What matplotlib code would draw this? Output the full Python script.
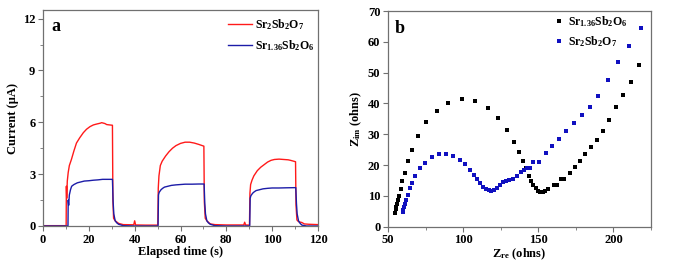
import matplotlib
matplotlib.use("Agg")
import matplotlib.pyplot as plt
from matplotlib.ticker import MultipleLocator

plt.rcParams['font.family'] = ['Liberation Serif', 'DejaVu Serif']
plt.rcParams['font.weight'] = 'bold'
plt.rcParams['mathtext.fontset'] = 'custom'
plt.rcParams['mathtext.rm'] = 'Liberation Serif:bold'
plt.rcParams['mathtext.it'] = 'Liberation Serif:bold'
plt.rcParams['mathtext.bf'] = 'Liberation Serif:bold'

# ---- Panel a: photocurrent vs time ----
t_red = [0, 10.1, 10.2, 10.35, 10.6, 11.0, 11.5, 12.4, 13.5, 14.6, 16.0, 17.6, 19.0, 20.5, 22.0,
         23.4, 25.0, 25.6, 27.0, 27.8, 29.0, 30.3, 30.5, 30.8, 31.5, 33.0, 35.0, 39.6, 40.0,
         40.4, 45.0, 50.1, 50.3, 50.6, 51.2, 52.0, 53.5, 55.0, 56.5, 58.0, 60.0, 62.0, 64.0,
         66.0, 68.0, 70.2, 70.4, 70.8, 71.5, 73.0, 75.0, 80.0, 87.6, 88.0, 88.4, 90.1, 90.3,
         90.6, 91.2, 92.0, 93.5, 95.0, 96.5, 98.0, 99.5, 101.0, 103.0, 105.0, 107.0, 108.0,
         110.2, 110.4, 110.8, 111.5, 113.0, 114.0, 116.0, 120.0]
i_red = [0.02, 0.02, 2.3, 1.6, 2.6, 3.1, 3.5, 3.85, 4.35, 4.8, 5.1, 5.4, 5.6, 5.75, 5.85,
         5.9, 5.95, 5.98, 5.93, 5.87, 5.85, 5.83, 1.5, 0.45, 0.3, 0.15, 0.08, 0.07, 0.3,
         0.06, 0.05, 0.05, 2.2, 2.9, 3.5, 3.75, 4.05, 4.3, 4.5, 4.65, 4.78, 4.85, 4.85,
         4.8, 4.72, 4.62, 1.4, 0.45, 0.3, 0.12, 0.08, 0.06, 0.06, 0.22, 0.06, 0.05, 1.9,
         2.4, 2.65, 2.9, 3.2, 3.4, 3.55, 3.7, 3.8, 3.85, 3.87, 3.85, 3.83, 3.8,
         3.72, 1.2, 0.35, 0.25, 0.2, 0.12, 0.1, 0.08]

t_blue = [0, 10.9, 11.0, 11.2, 11.5, 12.0, 12.5, 13.5, 15.0, 16.5, 18.0, 20.0, 22.0, 24.0, 26.0,
          28.0, 30.3, 30.6, 30.9, 31.5, 32.2, 33.0, 35.0, 40.0, 50.2, 50.4, 50.7, 51.5, 52.2,
          53.0, 54.5, 56.0, 58.0, 60.0, 62.0, 65.0, 68.0, 70.3, 70.6, 70.9, 71.5, 72.2, 73.0,
          75.0, 80.0, 90.2, 90.4, 90.7, 91.5, 92.2, 93.0, 94.5, 96.0, 98.0, 100.0, 103.0,
          106.0, 110.3, 110.6, 110.9, 111.5, 112.2, 113.0, 115.0, 120.0]
i_blue = [0.0, 0.0, 1.5, 1.2, 1.8, 2.1, 2.3, 2.4, 2.5, 2.55, 2.6, 2.62, 2.65, 2.67, 2.7,
          2.7, 2.7, 1.4, 0.7, 0.3, 0.18, 0.1, 0.02, 0.0, 0.0, 1.8, 1.95, 2.1, 2.18,
          2.25, 2.3, 2.35, 2.38, 2.4, 2.42, 2.42, 2.43, 2.43, 1.3, 0.7, 0.3, 0.18, 0.1,
          0.02, 0.0, 0.0, 1.6, 1.75, 1.9, 1.98, 2.05, 2.1, 2.15, 2.18, 2.2, 2.2,
          2.21, 2.22, 1.3, 0.7, 0.3, 0.15, 0.05, 0.0, 0.0]

# ---- Panel b: Nyquist ----
zre_black = [54.4, 55.1, 55.6, 56.0, 56.5, 57.3, 58.4, 59.6, 61.0, 63.2, 65.9, 69.9, 75.6,
             82.5, 90.2, 99.2, 107.6, 116.5, 123.1, 129.4, 133.7, 137.0, 139.8, 141.8, 143.6,
             145.3, 146.8, 148.2, 149.5, 151.1, 152.9, 154.4, 156.2, 160.2, 162.4, 165.3,
             167.0, 171.3, 174.6, 177.9, 181.4, 184.8, 188.9, 193.0, 197.0, 201.6, 206.6,
             211.6, 217.0]
zim_black = [4.6, 5.6, 6.5, 7.4, 8.7, 10.1, 12.3, 14.8, 17.5, 21.2, 25.0, 29.4, 33.9,
             37.5, 40.3, 41.4, 40.8, 38.6, 35.4, 31.5, 27.6, 24.3, 21.3, 18.9, 16.5,
             14.8, 13.4, 12.4, 11.6, 11.3, 11.3, 11.5, 12.2, 13.6, 13.6, 15.5,
             15.6, 17.4, 19.3, 21.4, 23.5, 25.8, 28.2, 31.0, 34.7, 38.7, 42.6,
             47.0, 52.4]

zre_blue = [59.8, 60.3, 60.7, 61.3, 62.0, 63.0, 64.5, 66.1, 68.1, 71.4, 74.9, 79.1, 84.2,
            88.8, 93.4, 97.9, 101.2, 104.5, 107.1, 109.3, 111.5, 113.5, 115.3, 117.1,
            118.8, 120.6, 122.4, 124.3, 126.6, 128.8, 130.7, 133.4, 135.8, 138.3, 140.3,
            142.8, 144.5, 146.4, 150.8, 155.4, 159.4, 163.6, 168.3, 173.8, 179.3, 184.6,
            190.0, 196.2, 203.2, 210.6, 218.3]
zim_blue = [4.7, 5.4, 6.3, 7.4, 8.7, 10.3, 12.4, 14.1, 16.5, 18.9, 20.8, 22.6, 23.6,
            23.7, 23.0, 21.7, 20.2, 18.5, 16.8, 15.4, 14.1, 13.0, 12.3, 11.9,
            11.7, 11.9, 12.7, 13.5, 14.4, 14.9, 15.1, 15.5, 16.5, 17.6, 18.5,
            18.9, 19.0, 21.1, 20.9, 23.9, 26.3, 28.6, 31.1, 33.6, 36.3, 38.9,
            42.4, 47.5, 53.4, 58.8, 64.6]

spine_col = '#707070'

fig = plt.figure(figsize=(6.75, 2.63), dpi=100)
ax1 = fig.add_axes([43 / 675, 1 - 226 / 263, 275 / 675, 216 / 263])
ax2 = fig.add_axes([388 / 675, 1 - 226.7 / 263, 263 / 675, 215.7 / 263])

ax1.plot(t_red, i_red, color='#ff1a1a', lw=1.0, label=r'$\mathrm{Sr_2Sb_2O_7}$')
ax1.plot(t_blue, i_blue, color='#1c1ca8', lw=1.0, label=r'$\mathrm{Sr_{1.36}Sb_2O_6}$')
ax1.set_xlim(0, 120)
ax1.set_ylim(0, 12.5)
ax1.xaxis.set_major_locator(MultipleLocator(20))
ax1.xaxis.set_minor_locator(MultipleLocator(10))
ax1.yaxis.set_major_locator(MultipleLocator(3))
ax1.yaxis.set_minor_locator(MultipleLocator(1.5))
ax1.set_xlabel('Elapsed time (s)', fontsize=9, fontweight='bold', labelpad=0)
ax1.set_ylabel('Current (μA)', fontsize=9, fontweight='bold', labelpad=3)
ax1.text(0.03, 0.905, 'a', transform=ax1.transAxes, fontsize=13, fontweight='bold')
ax1.legend(loc='upper left', bbox_to_anchor=((228 - 43) / 275, 0.965), frameon=False,
           fontsize=8.5, handlelength=2.0, handletextpad=0.3, labelspacing=0.5,
           borderpad=0, borderaxespad=0)

ax2.plot(zre_black, zim_black, 's', color='black', ms=2.4, mew=0, label=r'$\mathrm{Sr_{1.36}Sb_2O_6}$')
ax2.plot(zre_blue, zim_blue, 's', color='#1010c0', ms=2.4, mew=0, label=r'$\mathrm{Sr_2Sb_2O_7}$')
ax2.set_xlim(50, 225)
ax2.set_ylim(0, 70)
ax2.xaxis.set_major_locator(MultipleLocator(50))
ax2.xaxis.set_minor_locator(MultipleLocator(25))
ax2.yaxis.set_major_locator(MultipleLocator(10))
ax2.set_xlabel(r'$\mathrm{Z_{re}}$ (ohns)', fontsize=9, fontweight='bold', labelpad=0)
ax2.set_ylabel(r'$\mathrm{Z_{im}}$ (ohns)', fontsize=9, fontweight='bold', labelpad=3)
ax2.text(0.025, 0.9, 'b', transform=ax2.transAxes, fontsize=13, fontweight='bold')
ax2.legend(loc='upper left', bbox_to_anchor=((554 - 388) / 263, 0.985), frameon=False,
           fontsize=8.5, handlelength=0.8, handletextpad=0.4, labelspacing=0.45,
           borderpad=0, borderaxespad=0, numpoints=1)

for ax in (ax1, ax2):
    for s in ax.spines.values():
        s.set_color(spine_col)
        s.set_linewidth(0.9)
    ax.tick_params(which='both', direction='out', color=spine_col, labelsize=9,
                   top=False, right=False, pad=2)
    ax.tick_params(which='major', length=3.5)
    ax.tick_params(which='minor', length=2)
    for lab in ax.get_xticklabels() + ax.get_yticklabels():
        lab.set_fontweight('bold')

fig.savefig('out.png', dpi=100)
